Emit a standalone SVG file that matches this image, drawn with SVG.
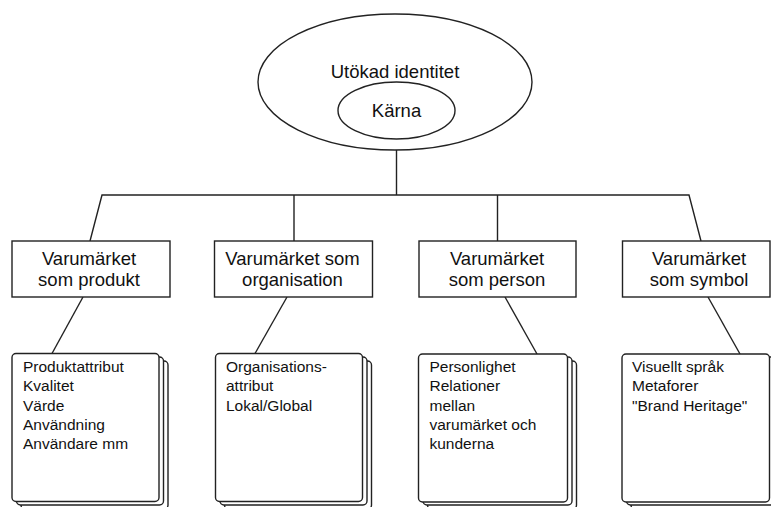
<svg xmlns="http://www.w3.org/2000/svg" width="771" height="507" viewBox="0 0 771 507">
<style>
  .shape { fill: #ffffff; stroke: #222222; stroke-width: 1.4; }
  .conn { fill: none; stroke: #222222; stroke-width: 1.4; }
  .t { font-family: "Liberation Sans", Arial, sans-serif; fill: #111111; }
  .big { font-size: 18.5px; text-anchor: middle; }
  .small { font-size: 15.5px; }
</style>
<rect width="771" height="507" fill="#ffffff"/>
<g id="connectors">
  <line class="conn" x1="396.5" y1="150" x2="396.5" y2="195"/>
  <polyline class="conn" points="90,241 102,195 689,195 701,241"/>
  <line class="conn" x1="294" y1="195" x2="294" y2="241"/>
  <line class="conn" x1="497.5" y1="195" x2="497.5" y2="241"/>
  <line class="conn" x1="83" y1="297" x2="52" y2="353.5"/>
  <line class="conn" x1="287" y1="297" x2="255" y2="353.5"/>
  <line class="conn" x1="505" y1="297" x2="537" y2="354"/>
  <line class="conn" x1="708" y1="297" x2="740" y2="354"/>
</g>
<g id="identity">
  <ellipse class="shape" cx="395" cy="82" rx="137" ry="68"/>
  <text class="t big" x="395" y="78">Utökad identitet</text>
</g>
<g id="core">
  <ellipse class="shape" cx="396.5" cy="110.5" rx="58.5" ry="28.5"/>
  <text class="t big" x="396.5" y="117">Kärna</text>
</g>
<g id="produkt">
  <rect class="shape" x="12" y="241" width="158" height="56"/>
  <text class="t big" x="89"><tspan x="89" y="265">Varumärket</tspan><tspan x="89" y="286">som produkt</tspan></text>
</g>
<g id="organisation">
  <rect class="shape" x="214.5" y="241" width="158" height="56"/>
  <text class="t big" x="292.5"><tspan x="292.5" y="265">Varumärket som</tspan><tspan x="292.5" y="286">organisation</tspan></text>
</g>
<g id="person">
  <rect class="shape" x="419" y="241" width="157" height="56"/>
  <text class="t big" x="497"><tspan x="497" y="265">Varumärket</tspan><tspan x="497" y="286">som person</tspan></text>
</g>
<g id="symbol">
  <rect class="shape" x="622.5" y="241" width="147.5" height="56"/>
  <text class="t big" x="699"><tspan x="699" y="265">Varumärket</tspan><tspan x="699" y="286">som symbol</tspan></text>
</g>
<g id="produkt-detaljer">
  <rect class="shape" x="21" y="361" width="147" height="148" rx="4"/>
  <rect class="shape" x="16.5" y="357" width="147" height="148" rx="4"/>
  <rect class="shape" x="12" y="353.5" width="147" height="148" rx="4"/>
  <text class="t small"><tspan x="23" y="371.5">Produktattribut</tspan><tspan x="23" y="391">Kvalitet</tspan><tspan x="23" y="410.5">Värde</tspan><tspan x="23" y="430">Användning</tspan><tspan x="23" y="449">Användare mm</tspan></text>
</g>
<g id="organisation-detaljer">
  <rect class="shape" x="224.5" y="361" width="147" height="148" rx="4"/>
  <rect class="shape" x="220" y="357" width="147" height="148" rx="4"/>
  <rect class="shape" x="215.5" y="353.5" width="147" height="148" rx="4"/>
  <text class="t small"><tspan x="226" y="371.5">Organisations-</tspan><tspan x="226" y="391">attribut</tspan><tspan x="226" y="410.5">Lokal/Global</tspan></text>
</g>
<g id="person-detaljer">
  <rect class="shape" x="427.5" y="361" width="149" height="148" rx="4"/>
  <rect class="shape" x="423" y="357" width="149" height="148" rx="4"/>
  <rect class="shape" x="418.5" y="354" width="149" height="148" rx="4"/>
  <text class="t small"><tspan x="429.5" y="371.5">Personlighet</tspan><tspan x="429.5" y="391">Relationer</tspan><tspan x="429.5" y="410.5">mellan</tspan><tspan x="429.5" y="430">varumärket och</tspan><tspan x="429.5" y="449">kunderna</tspan></text>
</g>
<g id="symbol-detaljer">
  <rect class="shape" x="631" y="361" width="149" height="148" rx="4"/>
  <rect class="shape" x="626.5" y="357" width="149" height="148" rx="4"/>
  <rect class="shape" x="622" y="354" width="147.5" height="148" rx="4"/>
  <text class="t small"><tspan x="632" y="371.5">Visuellt språk</tspan><tspan x="632" y="391">Metaforer</tspan><tspan x="632" y="410.5">"Brand Heritage"</tspan></text>
</g>
</svg>
